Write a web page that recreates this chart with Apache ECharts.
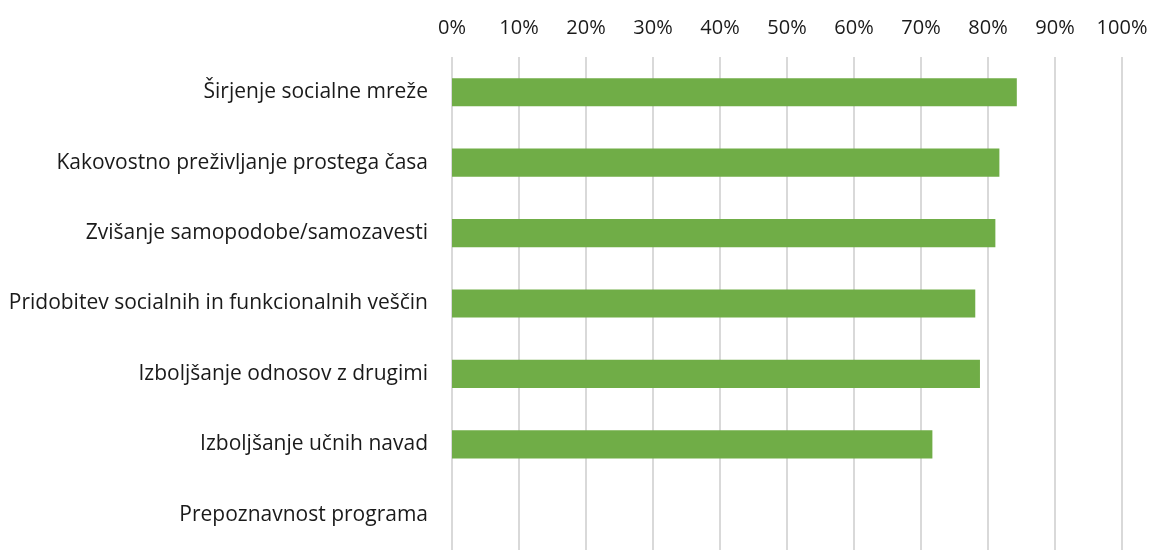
<!DOCTYPE html>
<html><head><meta charset="utf-8">
<script src="https://cdn.jsdelivr.net/npm/echarts@6/dist/echarts.min.js"></script>
<style>html,body{margin:0;padding:0;background:#fff}#c{width:1151px;height:550px}</style>
</head><body><div id="c"></div>
<script>
var categories = [
  "Širjenje socialne mreže",
  "Kakovostno preživljanje prostega časa",
  "Zvišanje samopodobe/samozavesti",
  "Pridobitev socialnih in funkcionalnih veščin",
  "Izboljšanje odnosov z drugimi",
  "Izboljšanje učnih navad",
  "Prepoznavnost programa"
];
var values = [84.3, 81.7, 81.1, 78.1, 78.8, 71.7, 0];
var xTicks = [0, 10, 20, 30, 40, 50, 60, 70, 80, 90, 100];

var chart = echarts.init(document.getElementById('c'));
chart.setOption({
  animation: false,
  textStyle: {fontFamily: 'Open Sans'},
  grid: {left: 452, right: 29, top: 57, height: 498, containLabel: false},
  xAxis: {
    type: 'value', position: 'top', min: 0, max: 100, interval: 10,
    axisLine: {show: false}, axisTick: {show: false},
    axisLabel: {formatter: function(v){ return xTicks.indexOf(v) >= 0 ? v + '%' : ''; },
      color: '#1a1a1a', fontSize: 20, margin: 19, fontFamily: 'Open Sans'},
    splitLine: {show: true, lineStyle: {color: '#d9d9d9', width: 2}}
  },
  yAxis: {
    type: 'category', data: categories, inverse: true,
    axisLine: {show: false}, axisTick: {show: false},
    axisLabel: {color: '#1a1a1a', fontSize: 21, margin: 24, fontFamily: 'Open Sans'}
  },
  series: [{
    type: 'bar', data: values, barWidth: '40%',
    itemStyle: {color: '#70ad47'}
  }]
});
</script></body></html>
